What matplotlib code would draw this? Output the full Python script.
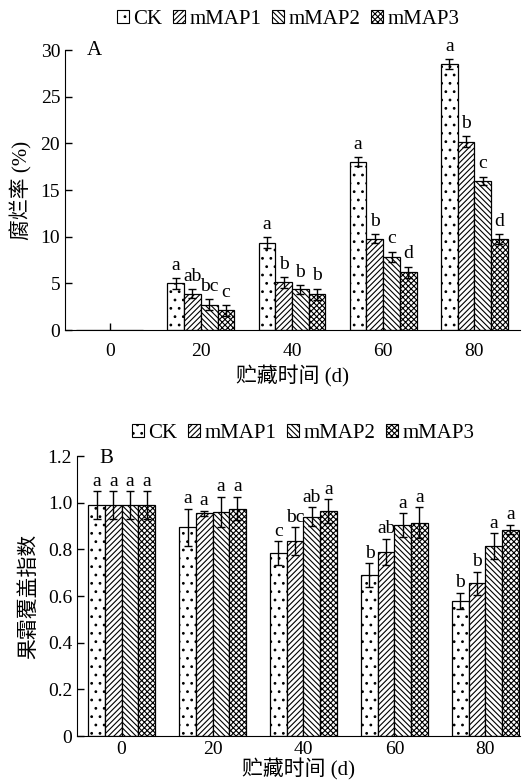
import matplotlib
matplotlib.use("Agg")
import matplotlib.pyplot as plt
import numpy as np
from matplotlib.patches import Patch

plt.rcParams['font.family'] = ['Liberation Serif', 'Noto Sans CJK SC']
plt.rcParams['hatch.linewidth'] = 0.8

days = ['0', '20', '40', '60', '80']
series = ['CK', 'mMAP1', 'mMAP2', 'mMAP3']

# Panel A: decay rate (%)
decay_ck = [0, 5.0, 9.35, 18.05, 28.5]
decay_m1 = [0, 3.9, 5.1, 9.8, 20.2]
decay_m2 = [0, 2.7, 4.35, 7.85, 16.0]
decay_m3 = [0, 2.1, 3.85, 6.2, 9.75]
decay_err_ck = [0, 0.6, 0.6, 0.5, 0.5]
decay_err_m1 = [0, 0.5, 0.6, 0.5, 0.55]
decay_err_m2 = [0, 0.6, 0.5, 0.55, 0.45]
decay_err_m3 = [0, 0.55, 0.6, 0.6, 0.5]
decay_lab_ck = ['', 'a', 'a', 'a', 'a']
decay_lab_m1 = ['', 'ab', 'b', 'b', 'b']
decay_lab_m2 = ['', 'bc', 'b', 'c', 'c']
decay_lab_m3 = ['', 'c', 'b', 'd', 'd']

# Panel B: bloom coverage index
bloom_ck = [0.99, 0.895, 0.785, 0.69, 0.58]
bloom_m1 = [0.99, 0.955, 0.835, 0.79, 0.655]
bloom_m2 = [0.99, 0.96, 0.94, 0.905, 0.815]
bloom_m3 = [0.99, 0.975, 0.965, 0.915, 0.885]
bloom_err_ck = [0.06, 0.08, 0.05, 0.05, 0.035]
bloom_err_m1 = [0.06, 0.01, 0.06, 0.055, 0.05]
bloom_err_m2 = [0.06, 0.065, 0.04, 0.05, 0.055]
bloom_err_m3 = [0.06, 0.05, 0.05, 0.065, 0.02]
bloom_lab_ck = ['a', 'a', 'c', 'b', 'b']
bloom_lab_m1 = ['a', 'a', 'bc', 'ab', 'b']
bloom_lab_m2 = ['a', 'a', 'ab', 'a', 'a']
bloom_lab_m3 = ['a', 'a', 'a', 'a', 'a']

hatches = ['..', '//////', '\\\\\\\\\\\\', 'xxxxxx']

fig = plt.figure(figsize=(5.22, 7.83), dpi=100)
axA = fig.add_axes([0.1245, 0.5785, 0.8715, 0.3575])
axB = fig.add_axes([0.1475, 0.06, 0.8485, 0.3576])

w = 0.183
x = np.arange(len(days))


def draw(ax, vals, errs, labs, letter_off, xpad, xlpad):
    for i, (v, e, lab) in enumerate(zip(vals, errs, labs)):
        xs = x + (i - 1.5) * w
        ax.bar(xs, v, width=w, color='white', edgecolor='black', linewidth=0.9,
               hatch=hatches[i], zorder=2)
        mask = np.array(v) > 0
        ax.errorbar(xs[mask], np.array(v)[mask], yerr=np.array(e)[mask], fmt='none',
                    ecolor='black', elinewidth=1.0, capsize=3, capthick=1.0, zorder=3)
        for xi, vi, ei, li in zip(xs, v, e, lab):
            if li:
                ax.annotate(li, (xi, vi + ei), xytext=(0, letter_off), textcoords='offset points',
                            ha='center', va='bottom', fontsize=14)
    for s in ['top', 'right']:
        ax.spines[s].set_visible(False)
    ax.tick_params(direction='in', length=5, labelsize=14, width=1)
    ax.tick_params(axis='x', pad=xpad)
    ax.set_xticks(x)
    ax.set_xticklabels(days)
    ax.set_xlabel('贮藏时间 (d)', fontsize=15, labelpad=xlpad)


draw(axA, [decay_ck, decay_m1, decay_m2, decay_m3],
     [decay_err_ck, decay_err_m1, decay_err_m2, decay_err_m3],
     [decay_lab_ck, decay_lab_m1, decay_lab_m2, decay_lab_m3], 3, 9, 4)
axA.set_xlim(-0.49, 4.5)
axA.set_ylim(0, 30)
axA.set_yticks([0, 5, 10, 15, 20, 25, 30])
axA.set_ylabel('腐烂率 (%)', fontsize=15, labelpad=6)
axA.text(0.048, 1.0, 'A', transform=axA.transAxes, fontsize=15, va='center')

draw(axB, [bloom_ck, bloom_m1, bloom_m2, bloom_m3],
     [bloom_err_ck, bloom_err_m1, bloom_err_m2, bloom_err_m3],
     [bloom_lab_ck, bloom_lab_m1, bloom_lab_m2, bloom_lab_m3], 1, 3.5, 0)
axB.set_xlim(-0.49, 4.38)
axB.set_ylim(0, 1.2)
axB.set_yticks([0, 0.2, 0.4, 0.6, 0.8, 1.0, 1.2])
axB.set_yticklabels(['0', '0.2', '0.4', '0.6', '0.8', '1.0', '1.2'])
axB.tick_params(axis='x', length=0)
axB.set_ylabel('果霜覆盖指数', fontsize=15, labelpad=6)
axB.text(0.05, 0.99, 'B', transform=axB.transAxes, fontsize=15, va='center')

handles = [Patch(facecolor='white', edgecolor='black', hatch=h, linewidth=0.8) for h in hatches]
for ax, yy, xx in [(axA, 1.11, 0.49), (axB, 1.082, 0.51)]:
    ax.legend(handles, series, loc='center', bbox_to_anchor=(xx, yy), ncol=4, frameon=False,
              fontsize=15, handlelength=0.6, handleheight=0.6, handletextpad=0.2,
              columnspacing=0.5, borderaxespad=0)

fig.savefig('out.png', dpi=100)
